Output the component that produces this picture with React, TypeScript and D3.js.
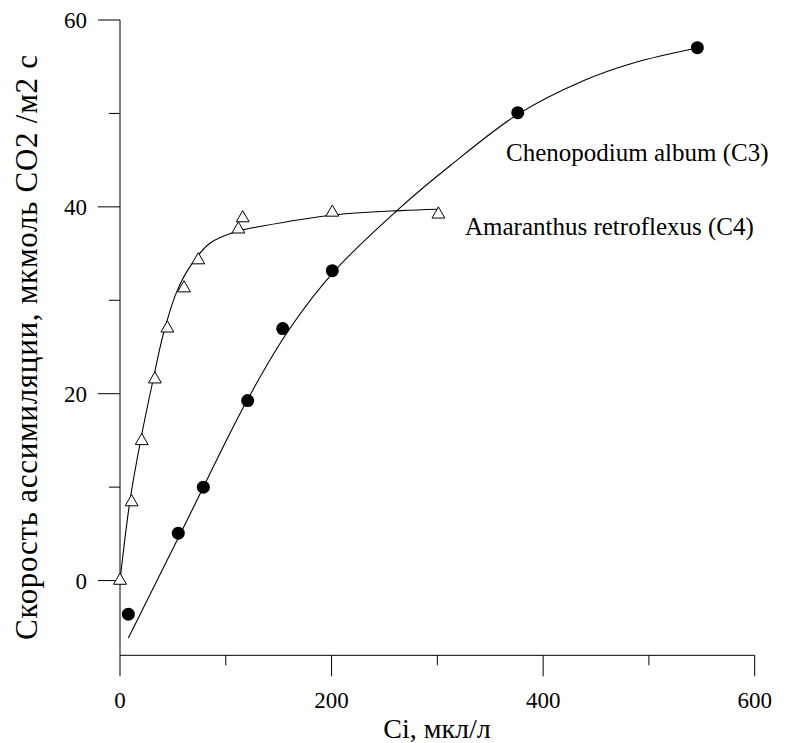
import React from "react";
import * as d3 from "d3";

// Measured points: intercellular CO2 (Ci, µl/l) vs assimilation rate
const c4Ci = [0, 11, 20.5, 33, 44.8, 60.5, 74, 111.9, 116, 200.7, 301];
const c4A = [0, 8.4, 14.95, 21.55, 27.0, 31.3, 34.3, 37.6, 38.8, 39.4, 39.2];

const c3Ci = [7.9, 55.1, 78.8, 120.7, 153.8, 200.7, 376, 545.8];
const c3A = [-3.6, 5.07, 10.0, 19.26, 26.97, 33.17, 50.08, 57.04];

// Fitted response curves, read as sample points along each fit
const c4FitCi = [0, 9.5, 19.5, 31.5, 41, 53.6, 66.2, 85, 110, 135, 200, 265, 300];
const c4FitA = [0, 8.6, 15, 21.6, 26.4, 30.9, 33.6, 36.1, 37.35, 37.95, 39.1, 39.6, 39.75];

const c3FitCi = [7.9, 64, 120.2, 160.7, 203.3, 264.7, 312, 376, 438, 485.3, 545.5];
const c3FitA = [-6.15, 6.6, 19.3, 27.0, 33.2, 39.9, 44.4, 49.9, 53.5, 55.4, 57.0];

const xMajor = [0, 200, 400, 600];
const xMinor = [100, 300, 500];
const yMajor = [0, 20, 40, 60];
const yMinor = [10, 30, 50];

const labelC3 = "Chenopodium album (C3)";
const labelC4 = "Amaranthus retroflexus (C4)";
const xTitle = "Ci, мкл/л";
const yTitle = "Скорость ассимиляции, мкмоль СО2 /м2 с";

const W = 786;
const H = 743;
const FONT = "Liberation Serif, Times New Roman, DejaVu Serif, serif";

export default function App() {
  const x = d3.scaleLinear().domain([0, 600]).range([120, 754.7]);
  const y = d3.scaleLinear().domain([-8, 60]).range([655.3, 20]);

  const line = d3
    .line<[number, number]>()
    .x((d) => x(d[0]))
    .y((d) => y(d[1]))
    .curve(d3.curveCatmullRom.alpha(0.5));

  const c4Fit = c4FitCi.map((v, i) => [v, c4FitA[i]] as [number, number]);
  const c3Fit = c3FitCi.map((v, i) => [v, c3FitA[i]] as [number, number]);

  const tri = d3.symbol().type(d3.symbolTriangle).size(72)() as string;

  const x0 = x(0);
  const yBase = y(-8);
  const textStyle = { fontFamily: FONT };

  return (
    <svg
      width={W}
      height={H}
      style={{ position: "absolute", left: 0, top: 0, background: "#fff", fontFamily: FONT }}
    >
      <rect width={W} height={H} fill="#fff" />

      {/* axes */}
      <line x1={x0} x2={x0} y1={y(60)} y2={yBase} stroke="#000" strokeWidth={1} />
      <line x1={x0} x2={x(600)} y1={yBase} y2={yBase} stroke="#000" strokeWidth={1} />

      {yMajor.map((v) => (
        <g key={"ym" + v}>
          <line x1={x0 - 22} x2={x0} y1={y(v)} y2={y(v)} stroke="#000" />
          <text x={x0 - 33} y={y(v)} dy="0.35em" textAnchor="end" fontSize={23} style={textStyle}>
            {v}
          </text>
        </g>
      ))}
      {yMinor.map((v) => (
        <line key={"yn" + v} x1={x0 - 11} x2={x0} y1={y(v)} y2={y(v)} stroke="#000" />
      ))}

      {xMajor.map((v) => (
        <g key={"xm" + v}>
          <line x1={x(v)} x2={x(v)} y1={yBase} y2={yBase + 21} stroke="#000" />
          <text x={x(v)} y={708} textAnchor="middle" fontSize={23} style={textStyle}>
            {v}
          </text>
        </g>
      ))}
      {xMinor.map((v) => (
        <line key={"xn" + v} x1={x(v)} x2={x(v)} y1={yBase} y2={yBase + 10} stroke="#000" />
      ))}

      <text x={437} y={738} textAnchor="middle" fontSize={28} style={textStyle}>
        {xTitle}
      </text>
      <text
        transform={`translate(37, 347.5) rotate(-90)`}
        textAnchor="middle"
        fontSize={31}
        textLength={585}
        lengthAdjust="spacing"
        style={textStyle}
      >
        {yTitle}
      </text>

      {/* fitted curves */}
      <path d={line(c4Fit) as string} fill="none" stroke="#000" strokeWidth={1.1} />
      <path d={line(c3Fit) as string} fill="none" stroke="#000" strokeWidth={1.1} />

      {/* C4 markers */}
      {c4Ci.map((v, i) => (
        <path
          key={"t" + i}
          d={tri}
          transform={`translate(${x(v)}, ${y(c4A[i])})`}
          fill="#fff"
          stroke="#000"
          strokeWidth={1}
        />
      ))}

      {/* C3 markers */}
      {c3Ci.map((v, i) => (
        <circle key={"c" + i} cx={x(v)} cy={y(c3A[i])} r={6.5} fill="#000" />
      ))}

      <text x={506} y={161} fontSize={25} style={textStyle}>
        {labelC3}
      </text>
      <text x={465} y={235} fontSize={25} style={textStyle}>
        {labelC4}
      </text>
    </svg>
  );
}
